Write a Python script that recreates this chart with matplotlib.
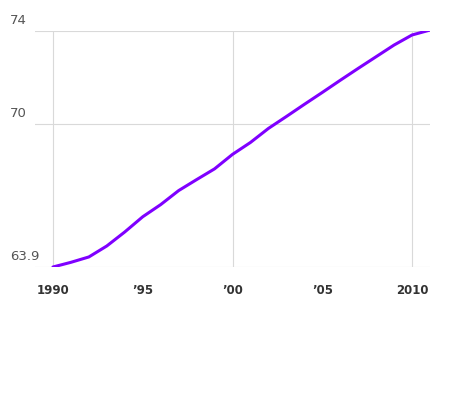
import matplotlib.pyplot as plt

years = list(range(1990, 2012))
values = [63.9, 64.1, 64.33, 64.8, 65.4, 66.05, 66.57, 67.17, 67.64, 68.1, 68.72,
          69.23, 69.83, 70.34, 70.86, 71.37, 71.89, 72.4, 72.9, 73.4, 73.83, 74.04]
ytick_vals = [63.9, 70, 74]
ytick_labels = ['63.9', '70', '74']
xtick_vals = [1990, 1995, 2000, 2005, 2010]
xtick_labels = ['1990', '\u201995', '\u201900', '\u201905', '2010']

fig = plt.figure(figsize=(4.6, 4.0), dpi=100)
ax = fig.add_axes([35 / 460, 133 / 400, 395 / 460, 236 / 400])
ax.set_xlim(1989, 2011)
ax.set_ylim(63.9, 74)

for y in ytick_vals:
    ax.axhline(y, color='#d9d9d9', lw=0.8, zorder=0)
for x in [1990, 2000, 2010]:
    ax.axvline(x, color='#d9d9d9', lw=0.8, zorder=0)

ax.plot(years, values, color='#7f00ff', lw=2.2, solid_capstyle='round')

for y, lab in zip(ytick_vals, ytick_labels):
    ax.annotate(lab, xy=(0, y), xycoords=('figure fraction', 'data'),
                xytext=(7, 3), textcoords='offset points', fontsize=9.5,
                color='#555555', va='bottom', ha='left')

ax.set_xticks(xtick_vals)
ax.set_xticklabels(xtick_labels, fontweight='bold', fontsize=8.5, color='#333333')
ax.tick_params(axis='x', length=0, pad=12)
ax.set_yticks([])
for s in ax.spines.values():
    s.set_visible(False)

fig.savefig('out.png', dpi=100)
